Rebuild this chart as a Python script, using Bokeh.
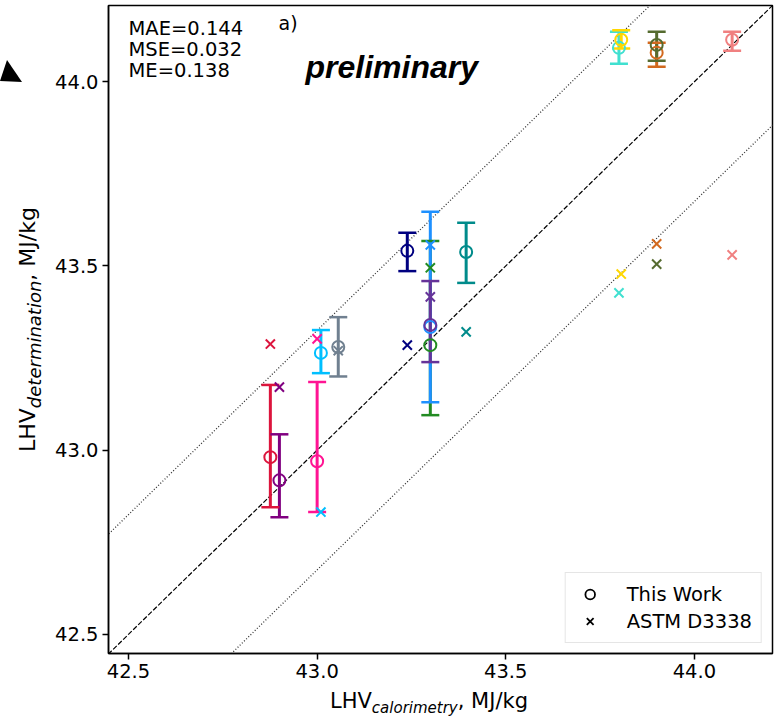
from bokeh.plotting import figure
from bokeh.layouts import row, column
from bokeh.models import (Range1d, FixedTicker, PrintfTickFormatter, Label,
                          Legend, LegendItem, ColumnDataSource, Div)
from bokeh.embed import file_html
from bokeh.resources import INLINE

# ---------------- data ----------------
colors = ["#DC143C", "#800080", "#FF1493", "#00BFFF", "#708090", "#000080",
          "#228B22", "#1E90FF", "#663399", "#008B8B", "#40E0D0", "#FFD700",
          "#D2691E", "#556B2F", "#F08080"]
lhv_cal = [42.876, 42.90, 43.00, 43.01, 43.056, 43.239,
           43.30, 43.30, 43.30, 43.395, 43.80, 43.806,
           43.90, 43.90, 44.10]
this_work = [42.981, 42.918, 42.970, 43.264, 43.280, 43.541,
             43.285, 43.334, 43.340, 43.538, 44.092, 44.114,
             44.079, 44.100, 44.114]
err_lo = [42.845, 42.818, 42.832, 43.209, 43.200, 43.486,
          43.095, 43.130, 43.239, 43.454, 44.049, 44.090,
          44.041, 44.057, 44.084]
err_hi = [43.177, 43.043, 43.185, 43.326, 43.361, 43.590,
          43.568, 43.647, 43.459, 43.617, 44.136, 44.140,
          44.106, 44.136, 44.136]
astm = [43.288, 43.171, 43.302, 42.832, 43.270, 43.285,
        43.495, 43.557, 43.416, 43.321, 43.427, 43.478,
        43.560, 43.505, 43.530]
diag = [42.3, 44.4]
band = 0.325
stats = ["MAE=0.144", "MSE=0.032", "ME=0.138"]
ticks = [42.5, 43.0, 43.5, 44.0]
x_label = ("LHV", "calorimetry", ", MJ/kg")
y_label = ("LHV", "determination", ", MJ/kg")

# ---------------- layout ----------------
W, H = 779, 721
LEFT_DIV = 50          # width of the y-label strip
BOTTOM_DIV = 36        # height of the x-label strip
FL, FR, FT, FB = 108, 772, 5, 653   # frame edges in page pixels
X0, X1 = 42.447, 44.207
Y0, Y1 = 42.448, 44.207
FONT = "DejaVu Sans"


def dx(px):
    return X0 + (px - FL) * (X1 - X0) / (FR - FL)


def dy(py):
    return Y1 - (py - FT) * (Y1 - Y0) / (FB - FT)


PW, PH = W - LEFT_DIV, H - BOTTOM_DIV
p = figure(width=PW, height=PH, output_backend="svg", toolbar_location=None,
           x_range=Range1d(X0, X1), y_range=Range1d(Y0, Y1),
           min_border_left=FL - LEFT_DIV, min_border_right=W - FR,
           min_border_top=FT, min_border_bottom=PH - FB, margin=0)
p.background_fill_color = "white"
p.border_fill_color = "white"
p.grid.visible = False
p.outline_line_color = "black"
p.outline_line_width = 1.5

for ax in (p.xaxis, p.yaxis):
    ax.ticker = FixedTicker(ticks=ticks)
    ax.formatter = PrintfTickFormatter(format="%.1f")
    ax.major_tick_in = 0
    ax.major_tick_out = 6
    ax.minor_tick_out = 0
    ax.minor_tick_in = 0
    ax.axis_line_width = 1.5
    ax.major_tick_line_width = 1.5
    ax.major_label_text_font = FONT
    ax.major_label_text_font_size = "19.5px"
    ax.major_label_text_color = "black"
    ax.major_label_standoff = 4
    ax.axis_label = None

# reference lines
p.line(diag, diag, line_color="black", line_dash="5 2", line_width=1.2)
p.line(diag, [v + band for v in diag], line_color="#333333", line_dash="1 2", line_width=1.3)
p.line(diag, [v - band for v in diag], line_color="#333333", line_dash="1 2", line_width=1.3)

src = ColumnDataSource(dict(x=lhv_cal, y=this_work, lo=err_lo, hi=err_hi,
                            astm=astm, c=colors))

p.segment(x0="x", y0="lo", x1="x", y1="hi", line_color="c", line_width=3, source=src)
p.scatter(x="x", y="lo", marker="dash", size=18, line_color="c", line_width=2.5, source=src)
p.scatter(x="x", y="hi", marker="dash", size=18, line_color="c", line_width=2.5, source=src)
p.scatter(x="x", y="y", marker="circle", size=12, fill_color=None, line_color="c",
          line_width=2, source=src)
p.scatter(x="x", y="astm", marker="x", size=13, line_color="c", line_width=2, source=src)

# legend with black dummy glyphs (placed outside the visible range)
r1 = p.scatter(x=[X0 - 10], y=[Y0 - 10], marker="circle", size=10, fill_color=None,
               line_color="black", line_width=1.8)
r2 = p.scatter(x=[X0 - 10], y=[Y0 - 10], marker="x", size=10, line_color="black",
               line_width=1.8)
leg = Legend(items=[LegendItem(label="This Work", renderers=[r1]),
                    LegendItem(label="ASTM D3338", renderers=[r2])],
             location="bottom_right", label_text_font=FONT, label_text_font_size="19.5px",
             label_text_color="black",
             border_line_color="#cccccc", border_line_width=1, padding=9, spacing=3,
             label_height=24, glyph_height=24, glyph_width=30, label_standoff=22,
             margin=10, background_fill_alpha=0.9)
p.add_layout(leg)

# texts inside frame
for i, s in enumerate(stats):
    p.add_layout(Label(x=dx(128), y=dy(16 + 21 * i), text=s, text_font=FONT,
                       text_font_size="19.5px", text_baseline="top", text_align="left",
                       text_color="black"))
p.add_layout(Label(x=dx(278), y=dy(11), text="a)", text_font=FONT, text_font_size="19px",
                   text_baseline="top", text_align="left", text_color="black"))
p.add_layout(Label(x=dx(305), y=dy(66), text="preliminary", text_font="Liberation Sans",
                   text_font_style="bold italic", text_font_size="32px",
                   text_baseline="alphabetic", text_align="left", text_color="black"))

# ---------------- axis labels as HTML (real text) ----------------
x_style = "font-family:'DejaVu Sans';font-size:21px;color:black;white-space:nowrap;line-height:normal;"
x_sub = "font-style:italic;font-size:15px;position:relative;top:5px;"
y_style = "font-family:'DejaVu Sans';font-size:22px;color:black;white-space:nowrap;line-height:normal;"
y_sub = "font-style:italic;font-size:18px;position:relative;top:6px;"


def label_html(parts, sub_style):
    return f"{parts[0]}<span style=\"{sub_style}\">{parts[1]}</span>{parts[2]}"


ydiv_html = (
    f'<div style="position:relative;width:{LEFT_DIV}px;height:{H}px;">'
    '<svg style="position:absolute;left:0;top:0" width="30" height="100">'
    '<polygon points="7,60 22,82 0,81" fill="black"/></svg>'
    f'<div style="position:absolute;left:15px;top:452px;transform:rotate(-90deg);'
    f'transform-origin:left top;{y_style}">{label_html(y_label, y_sub)}</div>'
    '</div>'
)
xdiv_html = (
    f'<div style="position:relative;width:{PW}px;height:{BOTTOM_DIV}px;">'
    f'<div style="position:absolute;left:{330 - LEFT_DIV}px;top:4px;{x_style}">'
    f'{label_html(x_label, x_sub)}</div>'
    '</div>'
)
ydiv = Div(text=ydiv_html, width=LEFT_DIV, height=H, margin=0)
xdiv = Div(text=xdiv_html, width=PW, height=BOTTOM_DIV, margin=0)

layout = row(ydiv, column(p, xdiv, spacing=0), spacing=0)

open("out.html", "w").write(file_html(layout, INLINE))
